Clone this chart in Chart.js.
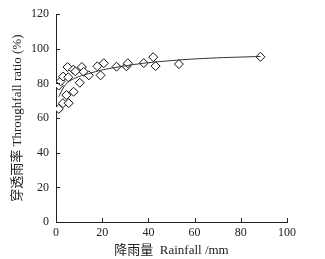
<!DOCTYPE html>
<html lang="zh">
<head>
<meta charset="UTF-8">
<title>穿透雨率</title>
<script src="https://cdn.jsdelivr.net/npm/chart.js"></script>
<style>
  html, body { margin: 0; padding: 0; background: #fff; }
  #wrap { width: 325px; height: 259px; }
</style>
</head>
<body>
<div id="wrap"><canvas id="grafica"></canvas></div>
<script>
// observed rainfall (mm) and throughfall ratio (%)
const rainfall = [1.2, 3, 5.5, 4.5, 7.6, 10.3, 1.2, 2, 3.1, 5.3, 5, 7.5, 8.4, 11.2, 12, 14.2, 17.9, 19.3, 20.7, 26.2, 30.5, 31.1, 38, 42.1, 43.1, 53.2, 88.5];
const ratio    = [65.3, 68.6, 68.6, 73.3, 75.2, 80.4, 78.8, 81.2, 84, 83.6, 89.5, 88, 87, 89.5, 86.7, 84.7, 89.9, 84.7, 91.7, 89.7, 89.9, 91.7, 91.8, 95.2, 90, 91.2, 95.4];

// fitted curve
const fitX = [1.2, 2, 3.4, 5, 7, 10, 14, 20, 26, 32, 40, 50, 58, 70, 88.5];
const fitY = [72.4, 74.5, 78, 80.5, 82.3, 84, 85.6, 87.8, 89.3, 90.6, 92, 93.2, 94, 94.8, 95.6];

const xTicks = [0, 20, 40, 60, 80, 100];
const yTicks = [0, 20, 40, 60, 80, 100, 120];

const fuente = "'Liberation Serif', 'Noto Sans CJK SC', serif";
const tinta = "#222";

// inward tick marks
const ticksHaciaDentro = {
  id: "ticksHaciaDentro",
  afterDraw(chart) {
    const ctx = chart.ctx;
    const xs = chart.scales.x, ys = chart.scales.y;
    ctx.save();
    ctx.strokeStyle = tinta;
    ctx.lineWidth = 1;
    ctx.beginPath();
    xTicks.forEach(v => {
      const px = Math.round(xs.getPixelForValue(v)) + 0.5;
      ctx.moveTo(px, ys.bottom);
      ctx.lineTo(px, ys.bottom - 4);
    });
    yTicks.forEach(v => {
      const py = Math.round(ys.getPixelForValue(v)) + 0.5;
      ctx.moveTo(xs.left, py);
      ctx.lineTo(xs.left + 4, py);
    });
    ctx.stroke();
    ctx.restore();
  }
};

new Chart(document.getElementById("grafica"), {
  type: "scatter",
  data: {
    datasets: [
      {
        label: "ajuste",
        type: "line",
        data: fitX.map((x, i) => ({ x: x, y: fitY[i] })),
        borderColor: "#333",
        borderWidth: 1,
        pointRadius: 0,
        tension: 0.4,
        fill: false
      },
      {
        label: "datos",
        data: rainfall.map((x, i) => ({ x: x, y: ratio[i] })),
        pointStyle: "rectRot",
        pointRadius: 4.5,
        pointBackgroundColor: "#fff",
        pointBorderColor: "#111",
        pointBorderWidth: 1
      }
    ]
  },
  options: {
    responsive: true,
    maintainAspectRatio: false,
    animation: false,
    layout: { padding: { top: 6, right: 38, left: 0, bottom: 0 } },
    plugins: { legend: { display: false }, tooltip: { enabled: false } },
    scales: {
      x: {
        type: "linear",
        min: 0, max: 100,
        afterBuildTicks: s => { s.ticks = xTicks.map(v => ({ value: v })); },
        afterFit: s => { s.height = 37; },
        grid: { display: false, drawTicks: false },
        border: { display: true, color: tinta, width: 1 },
        ticks: { padding: 4, color: tinta, font: { family: fuente, size: 12 } },
        title: { display: true, text: "降雨量  Rainfall /mm", color: tinta, padding: { top: 0, bottom: 1 }, font: { family: fuente, size: 13 } }
      },
      y: {
        type: "linear",
        min: 0, max: 120,
        afterBuildTicks: s => { s.ticks = yTicks.map(v => ({ value: v })); },
        afterFit: s => { s.width = 56; },
        grid: { display: false, drawTicks: false },
        border: { display: true, color: tinta, width: 1 },
        ticks: { padding: 7, color: tinta, font: { family: fuente, size: 12 } },
        title: { display: true, text: "穿透雨率 Throughfall ratio (%)", color: tinta, padding: { top: 10, bottom: 0 }, font: { family: fuente, size: 13 } }
      }
    }
  },
  plugins: [ticksHaciaDentro]
});
</script>
</body>
</html>
